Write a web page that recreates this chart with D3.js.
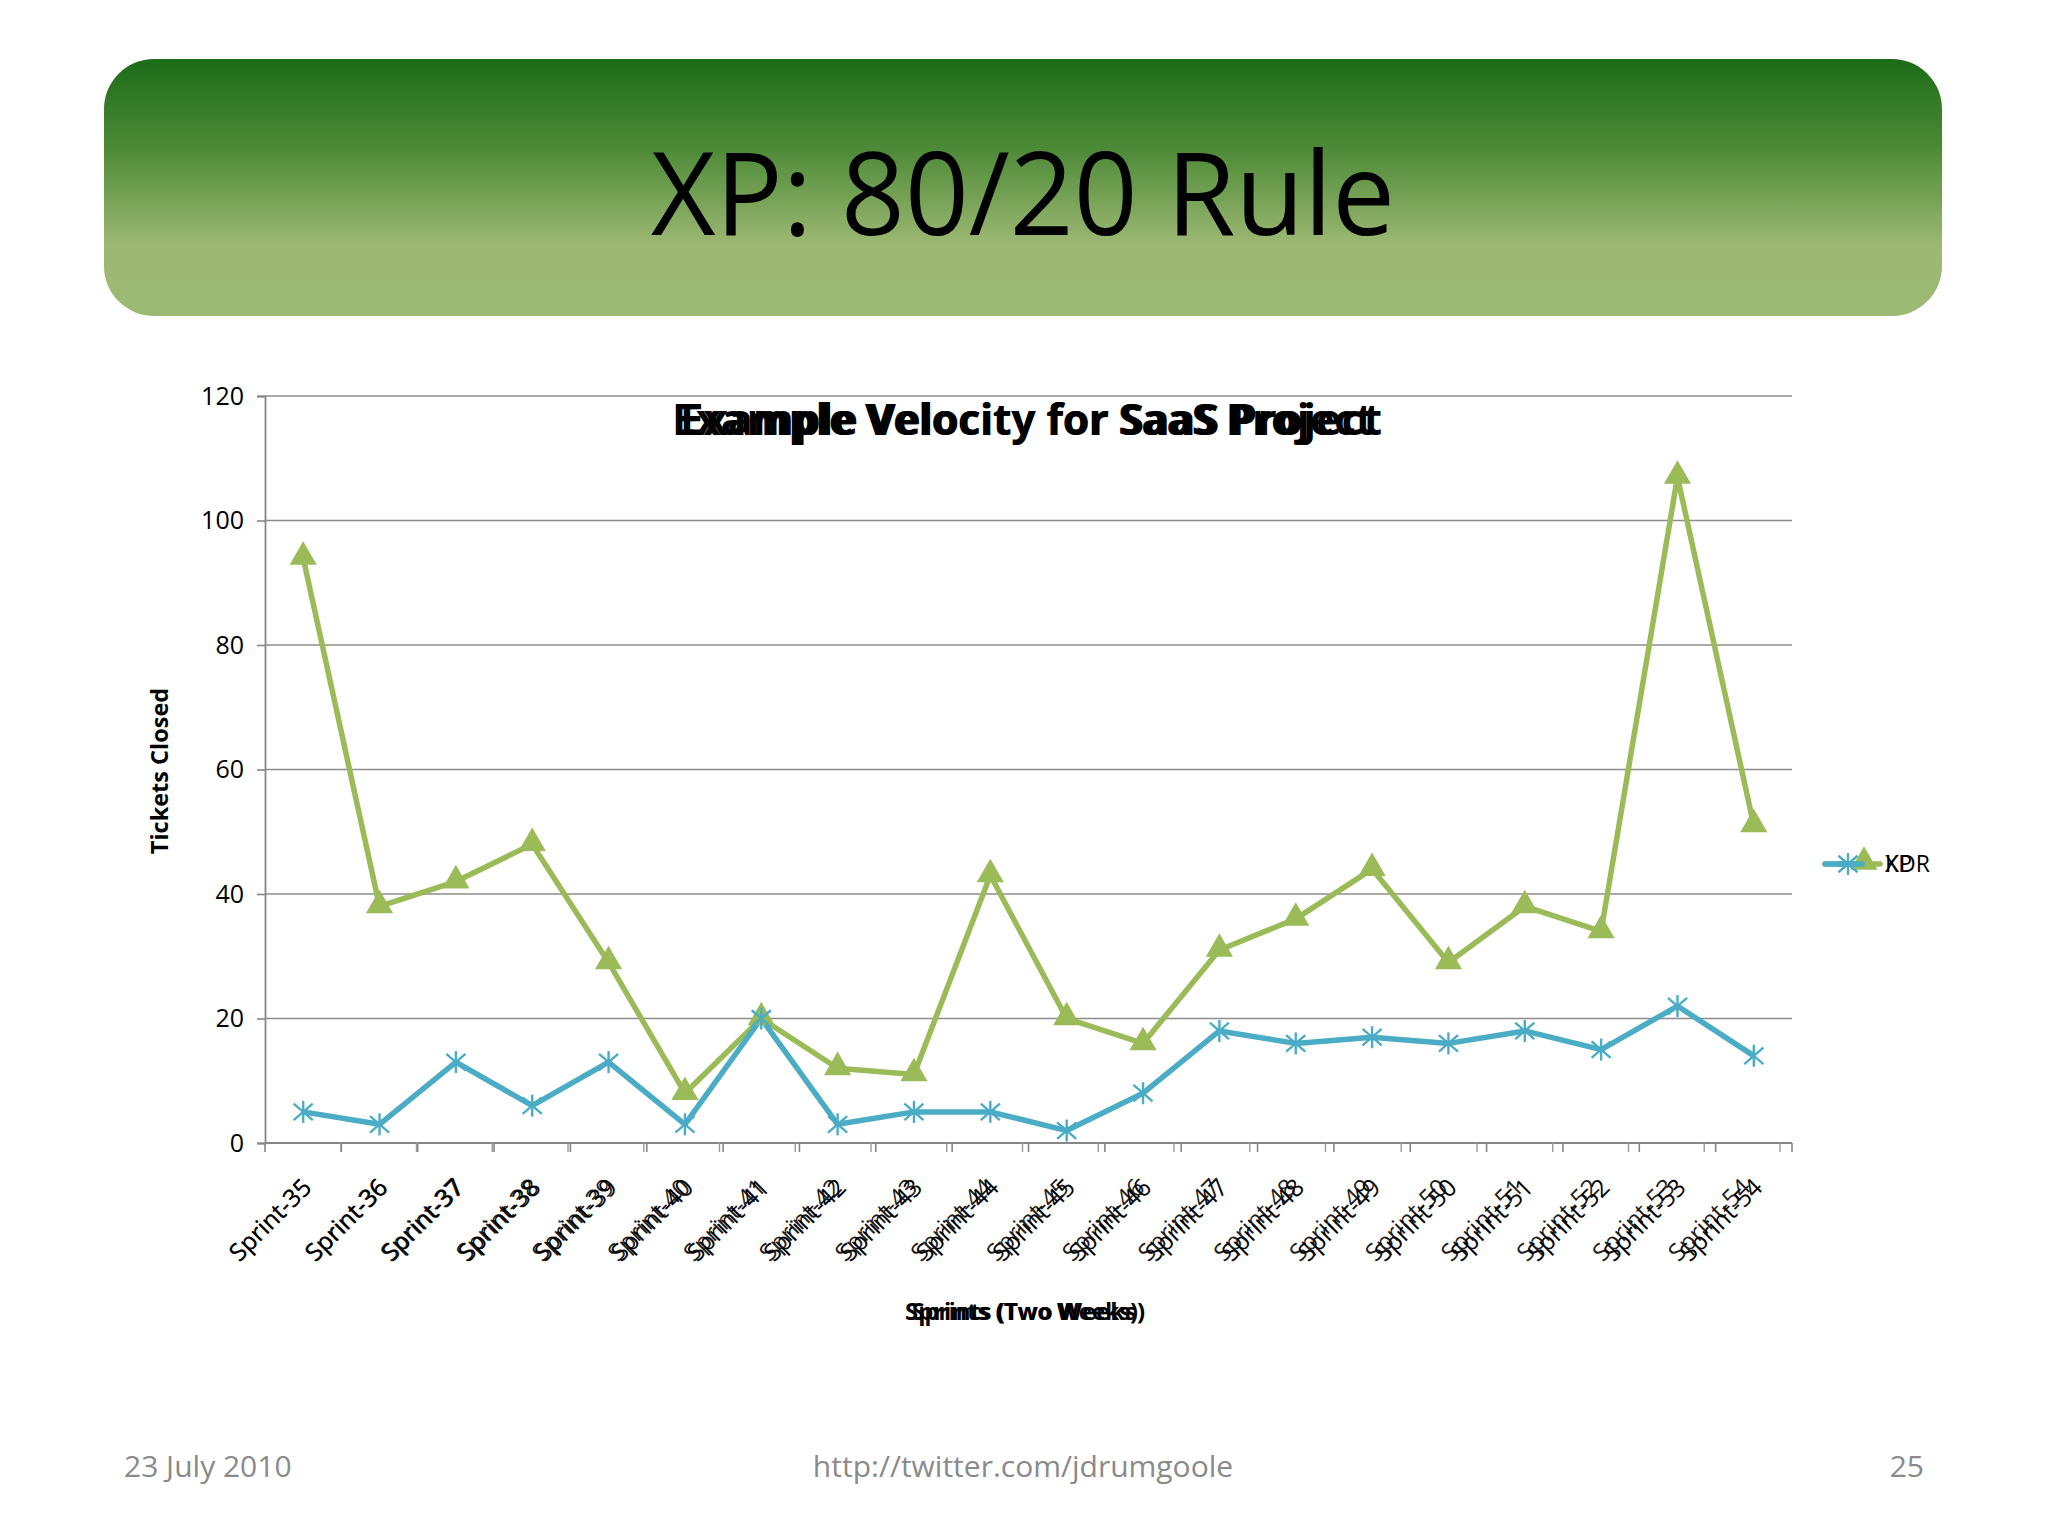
<!DOCTYPE html>
<html>
<head>
<meta charset="utf-8">
<script src="https://cdn.jsdelivr.net/npm/d3@7"></script>
<style>
  html, body { margin: 0; padding: 0; background: #ffffff; }
  svg { display: block; }
</style>
</head>
<body>
<script>
// ---- data ----
const slideTitle = "XP: 80/20 Rule";
const chartTitle = "Example Velocity for SaaS Project";
const xAxisTitle = "Sprints (Two Weeks)";
const yAxisTitle = "Tickets Closed";
const categories = ["Sprint-35","Sprint-36","Sprint-37","Sprint-38","Sprint-39","Sprint-40","Sprint-41","Sprint-42","Sprint-43","Sprint-44",
                    "Sprint-45","Sprint-46","Sprint-47","Sprint-48","Sprint-49","Sprint-50","Sprint-51","Sprint-52","Sprint-53","Sprint-54"];
const xpValues  = [94, 38, 42, 48, 29, 8, 20, 12, 11, 43, 20, 16, 31, 36, 44, 29, 38, 34, 107, 51];
const kdrValues = [5, 3, 13, 6, 13, 3, 20, 3, 5, 5, 2, 8, 18, 16, 17, 16, 18, 15, 22, 14];
const seriesNames = ["KDR", "XP"];
const yTicks = [0, 20, 40, 60, 80, 100, 120];
const footerLeft = "23 July 2010";
const footerCenter = "http://twitter.com/jdrumgoole";
const footerRight = "25";

// ---- layout ----
const W = 2048, H = 1536;
const plot = { left: 265, right: 1792, top: 396, bottom: 1143 };
const green = "#9bbb59", blue = "#4bacc6";
const font = "'Open Sans', 'Noto Sans', sans-serif";

const svg = d3.select("body").append("svg").attr("width", W).attr("height", H);

// banner gradient
const defs = svg.append("defs");
const grad = defs.append("linearGradient").attr("id", "bannerGrad")
  .attr("x1", 0).attr("y1", 0).attr("x2", 0).attr("y2", 1);
grad.append("stop").attr("offset", "0%").attr("stop-color", "#1c6c17");
grad.append("stop").attr("offset", "35%").attr("stop-color", "#4e8a38");
grad.append("stop").attr("offset", "72%").attr("stop-color", "#9cb872");
grad.append("stop").attr("offset", "100%").attr("stop-color", "#9dba74");

svg.append("rect").attr("x", 104).attr("y", 59).attr("width", 1838).attr("height", 257)
  .attr("rx", 50).attr("ry", 50).attr("fill", "url(#bannerGrad)");

svg.append("text").attr("x", 1023).attr("y", 235).attr("text-anchor", "middle")
  .attr("font-family", font).attr("font-size", 115).attr("fill", "#000")
  .attr("textLength", 744).attr("lengthAdjust", "spacingAndGlyphs")
  .text(slideTitle);

// scales
const x = d3.scaleBand().domain(categories).range([plot.left, plot.right]).padding(0);
const xGhost = d3.scaleBand().domain(categories).range([plot.left, plot.right - 12]).padding(0);
const y = d3.scaleLinear().domain([0, 120]).range([plot.bottom, plot.top]);

// gridlines
svg.append("g").selectAll("line").data(yTicks.filter(d => d > 0)).join("line")
  .attr("x1", plot.left).attr("x2", plot.right)
  .attr("y1", d => y(d)).attr("y2", d => y(d))
  .attr("stroke", "#8c8c8c").attr("stroke-width", 1.6);

// y axis
const yAxis = svg.append("g").attr("transform", `translate(${plot.left},0)`)
  .call(d3.axisLeft(y).tickValues(yTicks).tickSize(8).tickPadding(13));
yAxis.select(".domain").attr("stroke", "#868686").attr("stroke-width", 1.8);
yAxis.selectAll(".tick line").attr("stroke", "#868686").attr("stroke-width", 1.6);
yAxis.selectAll(".tick text").attr("font-family", font).attr("font-size", 25).attr("fill", "#000");

// x axis: band boundary ticks (main + ghost)
const boundaries = d3.range(categories.length + 1);
const bw = x.bandwidth(), gbw = xGhost.bandwidth();
svg.append("line").attr("x1", plot.left).attr("x2", plot.right)
  .attr("y1", plot.bottom).attr("y2", plot.bottom)
  .attr("stroke", "#868686").attr("stroke-width", 1.8);
svg.append("g").selectAll("line").data(boundaries).join("line")
  .attr("x1", i => plot.left + i * bw).attr("x2", i => plot.left + i * bw)
  .attr("y1", plot.bottom).attr("y2", plot.bottom + 9)
  .attr("stroke", "#868686").attr("stroke-width", 1.6);
svg.append("g").selectAll("line").data(boundaries.slice(1)).join("line")
  .attr("x1", i => plot.left + i * gbw).attr("x2", i => plot.left + i * gbw)
  .attr("y1", plot.bottom).attr("y2", plot.bottom + 9)
  .attr("stroke", "#9a9a9a").attr("stroke-width", 1.4);

// x labels (main + ghost)
function xLabels(scale, opacity) {
  svg.append("g").selectAll("text").data(categories).join("text")
    .attr("transform", d => `translate(${scale(d) + scale.bandwidth() / 2 + 10},${plot.bottom + 46}) rotate(-45)`)
    .attr("text-anchor", "end")
    .attr("font-family", font).attr("font-size", 24.5).attr("fill", "#000")
    .attr("fill-opacity", opacity)
    .text(d => d);
}
xLabels(x, 1);
xLabels(xGhost, 0.9);

// axis titles
svg.append("text").attr("transform", `translate(168,771) rotate(-90)`)
  .attr("text-anchor", "middle").attr("font-family", font).attr("font-weight", "bold")
  .attr("font-size", 23.5).attr("fill", "#000").text(yAxisTitle);

[240, 226].forEach(len => {
  svg.append("text").attr("x", 1025).attr("y", 1320).attr("text-anchor", "middle")
    .attr("font-family", font).attr("font-weight", "bold").attr("font-size", 23).attr("fill", "#000")
    .attr("textLength", len).attr("lengthAdjust", "spacingAndGlyphs").text(xAxisTitle);
});

// chart title (ghosted)
[710, 694].forEach(len => {
  svg.append("text").attr("x", 1027).attr("y", 435).attr("text-anchor", "middle")
    .attr("font-family", font).attr("font-weight", "bold").attr("font-size", 43).attr("fill", "#000")
    .attr("textLength", len).attr("lengthAdjust", "spacingAndGlyphs").text(chartTitle);
});

// lines
const cx = i => x(categories[i]) + bw / 2;
const line = d3.line().x((d, i) => cx(i)).y(d => y(d));
svg.append("path").datum(xpValues).attr("d", line).attr("fill", "none")
  .attr("stroke", green).attr("stroke-width", 5.5).attr("stroke-linejoin", "round");
svg.append("path").datum(kdrValues).attr("d", line).attr("fill", "none")
  .attr("stroke", blue).attr("stroke-width", 5.5).attr("stroke-linejoin", "round");

// markers
const tri = d3.symbol().type(d3.symbolTriangle).size(320);
svg.append("g").selectAll("path").data(xpValues).join("path")
  .attr("d", tri).attr("transform", (d, i) => `translate(${cx(i)},${y(d) - 1})`)
  .attr("fill", green);

function star(g, px, py, r) {
  const s = g.append("g").attr("transform", `translate(${px},${py})`)
    .attr("stroke", blue).attr("stroke-width", 2.4);
  s.append("line").attr("x1", 0).attr("y1", -r).attr("x2", 0).attr("y2", r);
  s.append("line").attr("x1", -r * 0.87).attr("y1", -r * 0.75).attr("x2", r * 0.87).attr("y2", r * 0.75);
  s.append("line").attr("x1", -r * 0.87).attr("y1", r * 0.75).attr("x2", r * 0.87).attr("y2", -r * 0.75);
}
const starG = svg.append("g");
kdrValues.forEach((d, i) => star(starG, cx(i), y(d), 11));

// legend (both entries overlapped at the same spot)
const lg = svg.append("g");
lg.append("line").attr("x1", 1825).attr("x2", 1880).attr("y1", 864).attr("y2", 864)
  .attr("stroke", green).attr("stroke-width", 5.5).attr("stroke-linecap", "round");
lg.append("path").attr("d", tri).attr("transform", "translate(1864,862)").attr("fill", green);
lg.append("line").attr("x1", 1825).attr("x2", 1862).attr("y1", 864).attr("y2", 864)
  .attr("stroke", blue).attr("stroke-width", 5.5).attr("stroke-linecap", "round");
star(lg, 1848, 864, 11);
seriesNames.forEach(n => {
  lg.append("text").attr("x", 1885).attr("y", 872).attr("font-family", font)
    .attr("font-size", 23).attr("fill", "#000").text(n);
});

// footer
const fg = svg.append("g").attr("font-family", font).attr("font-size", 30).attr("fill", "#8a8a8a");
fg.append("text").attr("x", 124).attr("y", 1477).text(footerLeft);
fg.append("text").attr("x", 1023).attr("y", 1477).attr("text-anchor", "middle").text(footerCenter);
fg.append("text").attr("x", 1924).attr("y", 1477).attr("text-anchor", "end").text(footerRight);
</script>
</body>
</html>
